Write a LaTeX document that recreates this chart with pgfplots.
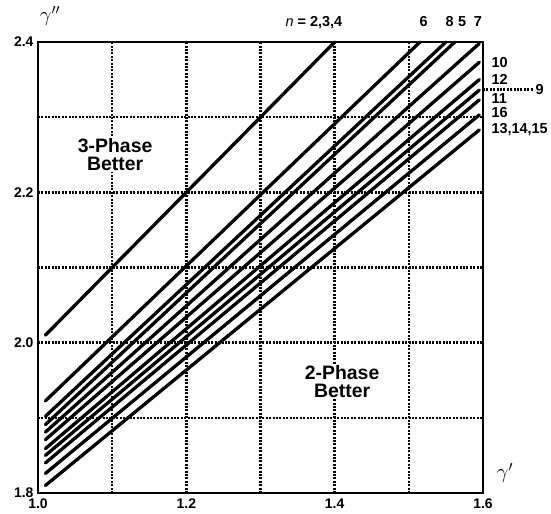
\documentclass[border=0pt]{standalone}
\usepackage{fontspec}
\setmainfont{Liberation Sans}
\usepackage{pgfplots}
\pgfplotsset{compat=1.18}
\tikzset{cl/.style={black, mark=none, line width=3.3bp, line cap=round},
  gd/.style={black, line width=2.5bp, dash pattern=on 1.9bp off 1.5bp}}
\begin{document}
\begin{tikzpicture}[x=1bp,y=1bp]
\useasboundingbox (0,0) rectangle (551,514);
\begin{axis}[at={(38bp,21bp)}, anchor=south west,
  width=445bp, height=451bp, scale only axis,
  xmin=1.0, xmax=1.6, ymin=1.8, ymax=2.4,
  xtick={1.0,1.2,1.4,1.6}, ytick={1.8,2.0,2.2,2.4},
  xticklabels={1.0,1.2,1.4,1.6}, yticklabels={1.8,2.0,2.2,2.4},
  minor xtick={1.1,1.3,1.5}, minor ytick={1.9,2.1,2.3},
  major tick length=0pt, minor tick length=0pt,
  grid=both,
  major grid style={gd},
  minor grid style={gd},
  axis line style={line width=2.8bp},
  tick label style={font=\bfseries\fontsize{14}{14}\selectfont},
  xticklabel style={yshift=-2.5bp},
  yticklabel style={xshift=-1bp},
  clip=false,
]
% n = 2,3,4
\addplot[cl] coordinates {(1.01,2.01) (1.4,2.4)};
% 6
\addplot[cl] coordinates {(1.01,1.9225) (1.515,2.4)};
% 8
\addplot[cl] coordinates {(1.01,1.902) (1.55,2.4)};
% 5
\addplot[cl] coordinates {(1.01,1.891) (1.562,2.4)};
% 7
\addplot[cl] coordinates {(1.01,1.881) (1.595,2.398)};
% 10
\addplot[cl] coordinates {(1.01,1.871) (1.595,2.373)};
% 12
\addplot[cl] coordinates {(1.01,1.859) (1.595,2.350)};
% 9
\addplot[cl] coordinates {(1.01,1.850) (1.595,2.336)};
% 11
\addplot[cl] coordinates {(1.01,1.840) (1.595,2.323)};
% 16
\addplot[cl] coordinates {(1.01,1.826) (1.595,2.303)};
% 13,14,15
\addplot[cl] coordinates {(1.01,1.810) (1.595,2.283)};

\def\lab{\bfseries\fontsize{19.5}{19.5}\selectfont}
\node[font=\lab, fill=white, inner sep=1bp, align=center] at (axis cs:1.104,2.2505) {3-Phase\\[-1bp]Better};
\node[font=\lab, fill=white, inner sep=1bp, align=center] at (axis cs:1.41,1.9485) {2-Phase\\[-1bp]Better};

\def\nlab{\bfseries\fontsize{14.5}{14.5}\selectfont}
\node[font=\nlab, anchor=base east] at ([yshift=15bp]axis cs:1.415,2.4) {\textit{\mdseries n} = 2,3,4};
\node[font=\nlab, anchor=base] at ([yshift=15bp]axis cs:1.52,2.4) {6};
\node[font=\nlab, anchor=base] at ([yshift=15bp]axis cs:1.555,2.4) {8};
\node[font=\nlab, anchor=base] at ([yshift=15bp]axis cs:1.572,2.4) {5};
\node[font=\nlab, anchor=base] at ([yshift=15bp]axis cs:1.593,2.4) {7};

\node[font=\nlab, anchor=west] at ([xshift=5bp]axis cs:1.6,2.373) {10};
\node[font=\nlab, anchor=west] at ([xshift=5bp]axis cs:1.6,2.350) {12};
\node[font=\nlab, anchor=west] at ([xshift=5bp]axis cs:1.6,2.325) {11};
\node[font=\nlab, anchor=west] at ([xshift=5bp]axis cs:1.6,2.306) {16};
\node[font=\nlab, anchor=west] at ([xshift=5bp]axis cs:1.6,2.283) {13,14,15};
\draw[gd] (axis cs:1.6,2.337) -- ([xshift=50bp]axis cs:1.6,2.337);
\node[font=\nlab, anchor=west] at ([xshift=49bp]axis cs:1.6,2.337) {9};

\node[font=\fontsize{20}{20}\selectfont, inner sep=1bp] at ([xshift=12bp,yshift=26bp]axis cs:1.0,2.4) {$\gamma''$};
\node[font=\fontsize{21}{21}\selectfont] at ([xshift=22bp,yshift=20bp]axis cs:1.6,1.8) {$\gamma'$};
\end{axis}
\end{tikzpicture}
\end{document}
